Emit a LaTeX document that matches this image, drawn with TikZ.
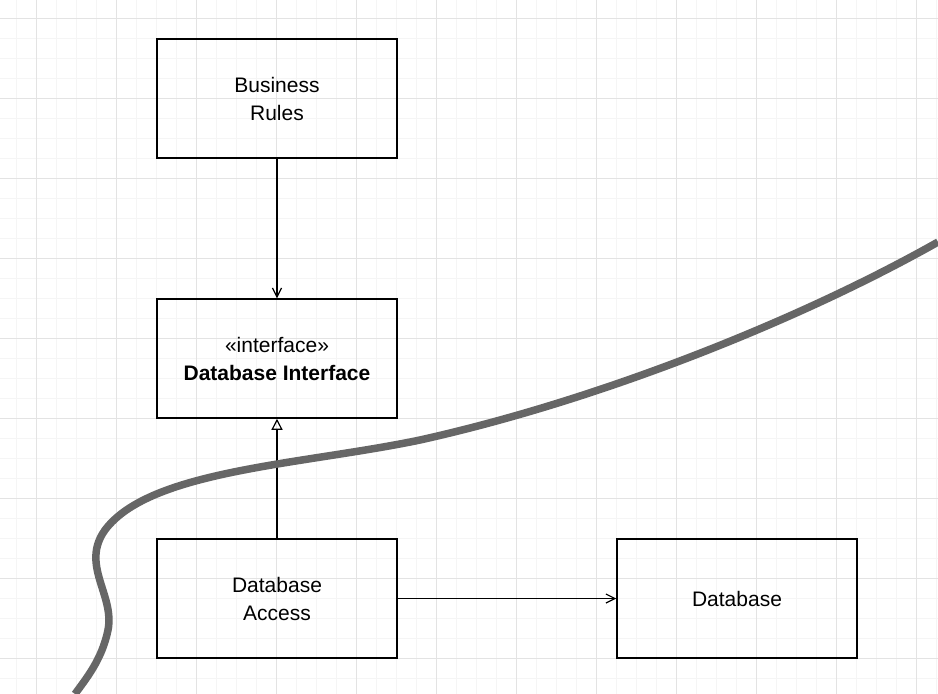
\documentclass[tikz,border=0pt]{standalone}
\usepackage{fontspec}
\setmainfont{Liberation Sans}
\usetikzlibrary{arrows.meta}
\begin{document}
\begin{tikzpicture}[x=1pt,y=-1pt,
  box/.style={draw,line width=1.5pt,minimum width=240pt,minimum height=119pt,align=center,font=\fontsize{21}{28}\selectfont,inner sep=0pt},
  dep/.style={line width=1.2pt,-{Straight Barb[length=9pt,width=9pt]}},
  real/.style={line width=1.2pt,-{Triangle[open,length=11pt,width=11pt]}}]
\useasboundingbox (0,0) rectangle (938,694);
\fill[white] (0,0) rectangle (938,694);
\foreach \x in {-4,16,...,938} \draw[gray!8,line width=1pt] (\x,0) -- (\x,694);
\foreach \y in {-2,18,...,694} \draw[gray!8,line width=1pt] (0,\y) -- (938,\y);
\foreach \x in {36,116,...,938} \draw[gray!22,line width=1pt] (\x,0) -- (\x,694);
\foreach \y in {18,98,...,694} \draw[gray!22,line width=1pt] (0,\y) -- (938,\y);
\node[box] (br) at (277,98.5) {Business\\Rules};
\node[box] (di) at (277,358.5) {«interface»\\\textbf{Database Interface}};
\node[box] (da) at (277,598.5) {Database\\Access};
\node[box] (db) at (737,598.5) {Database};
\draw[dep] (br) -- (di);
\draw[real] (da) -- (di);
\draw[dep] (da) -- (db);
\draw[line width=7.5pt,color=black!60] (938,242) .. controls (800,320) and (600,400) .. (420,440)
  .. controls (300,465) and (150,470) .. (105,530)
  .. controls (80,565) and (115,595) .. (108,630)
  .. controls (102,660) and (85,680) .. (75,694);
\end{tikzpicture}
\end{document}
